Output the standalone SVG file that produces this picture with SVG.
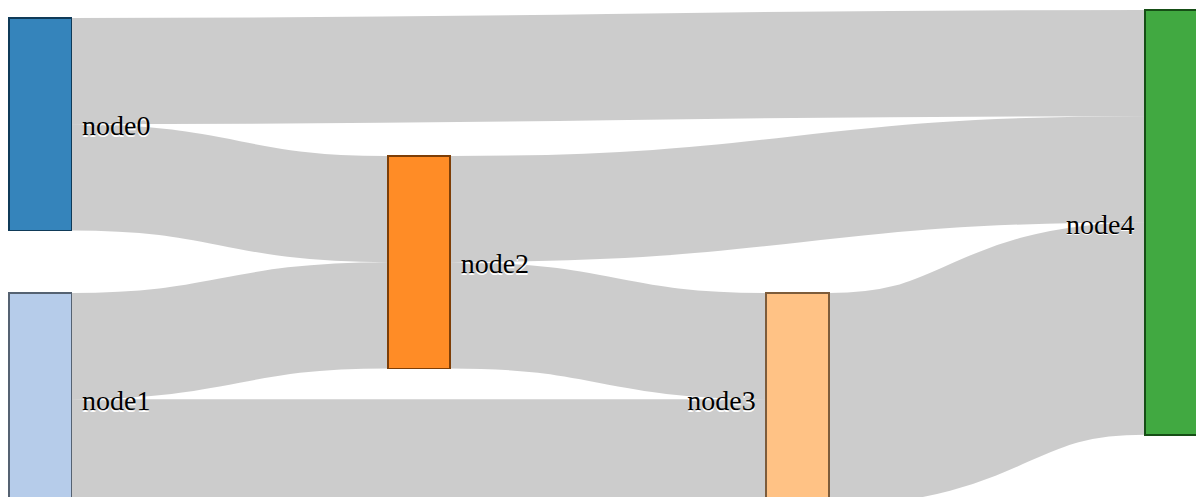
<svg xmlns="http://www.w3.org/2000/svg" width="1196" height="497" viewBox="0 0 1196 497">
<style>
.link{fill:none;stroke:#000;stroke-opacity:0.2}
.node rect{fill-opacity:0.9;stroke-width:1.75;shape-rendering:crispEdges}
.node text{font-size:28px;fill:#000;text-shadow:0 1.75px 0 #fff}
</style>
<rect width="1196" height="497" fill="#fff"/>
<g id="links">
<path class="link" stroke-width="106.2" d="M71.5,71.1C608.25,71.1 608.25,63.1 1145,63.1"/>
<path class="link" stroke-width="106.2" d="M71.5,177.3C229.6,177.3 229.6,209.1 387.7,209.1"/>
<path class="link" stroke-width="106.2" d="M71.5,346.1C229.6,346.1 229.6,315.3 387.7,315.3"/>
<path class="link" stroke-width="106.2" d="M71.5,452.3C418.9,452.3 418.9,452.3 766.3,452.3"/>
<path class="link" stroke-width="106.2" d="M450.2,209.1C797.6,209.1 797.6,169.3 1145,169.3"/>
<path class="link" stroke-width="106.2" d="M450.2,315.3C608.25,315.3 608.25,346.1 766.3,346.1"/>
<path class="link" stroke-width="212.4" d="M828.8,399.2C986.9,399.2 986.9,328.6 1145,328.6"/>
</g>
<g id="node0" class="node">
<rect x="9" y="18" width="62.5" height="212.4" fill="#1f77b4" stroke="#0f3a58"/>
<text x="82" y="125.5" dy="0.35em" font-family="Liberation Serif, Times New Roman, serif">node0</text>
</g>
<g id="node1" class="node">
<rect x="9" y="293" width="62.5" height="212.4" fill="#aec7e8" stroke="#556272"/>
<text x="82" y="400.5" dy="0.35em" font-family="Liberation Serif, Times New Roman, serif">node1</text>
</g>
<g id="node2" class="node">
<rect x="387.7" y="156" width="62.5" height="212.4" fill="#ff7f0e" stroke="#7d3e07"/>
<text x="460.7" y="263.5" dy="0.35em" font-family="Liberation Serif, Times New Roman, serif">node2</text>
</g>
<g id="node3" class="node">
<rect x="766.3" y="293" width="62.5" height="212.4" fill="#ffbb78" stroke="#7d5c3b"/>
<text x="755.8" y="400.5" dy="0.35em" text-anchor="end" font-family="Liberation Serif, Times New Roman, serif">node3</text>
</g>
<g id="node4" class="node">
<rect x="1145" y="10" width="62.5" height="424.8" fill="#2ca02c" stroke="#164e16"/>
<text x="1134.5" y="223.7" dy="0.35em" text-anchor="end" font-family="Liberation Serif, Times New Roman, serif">node4</text>
</g>
</svg>
